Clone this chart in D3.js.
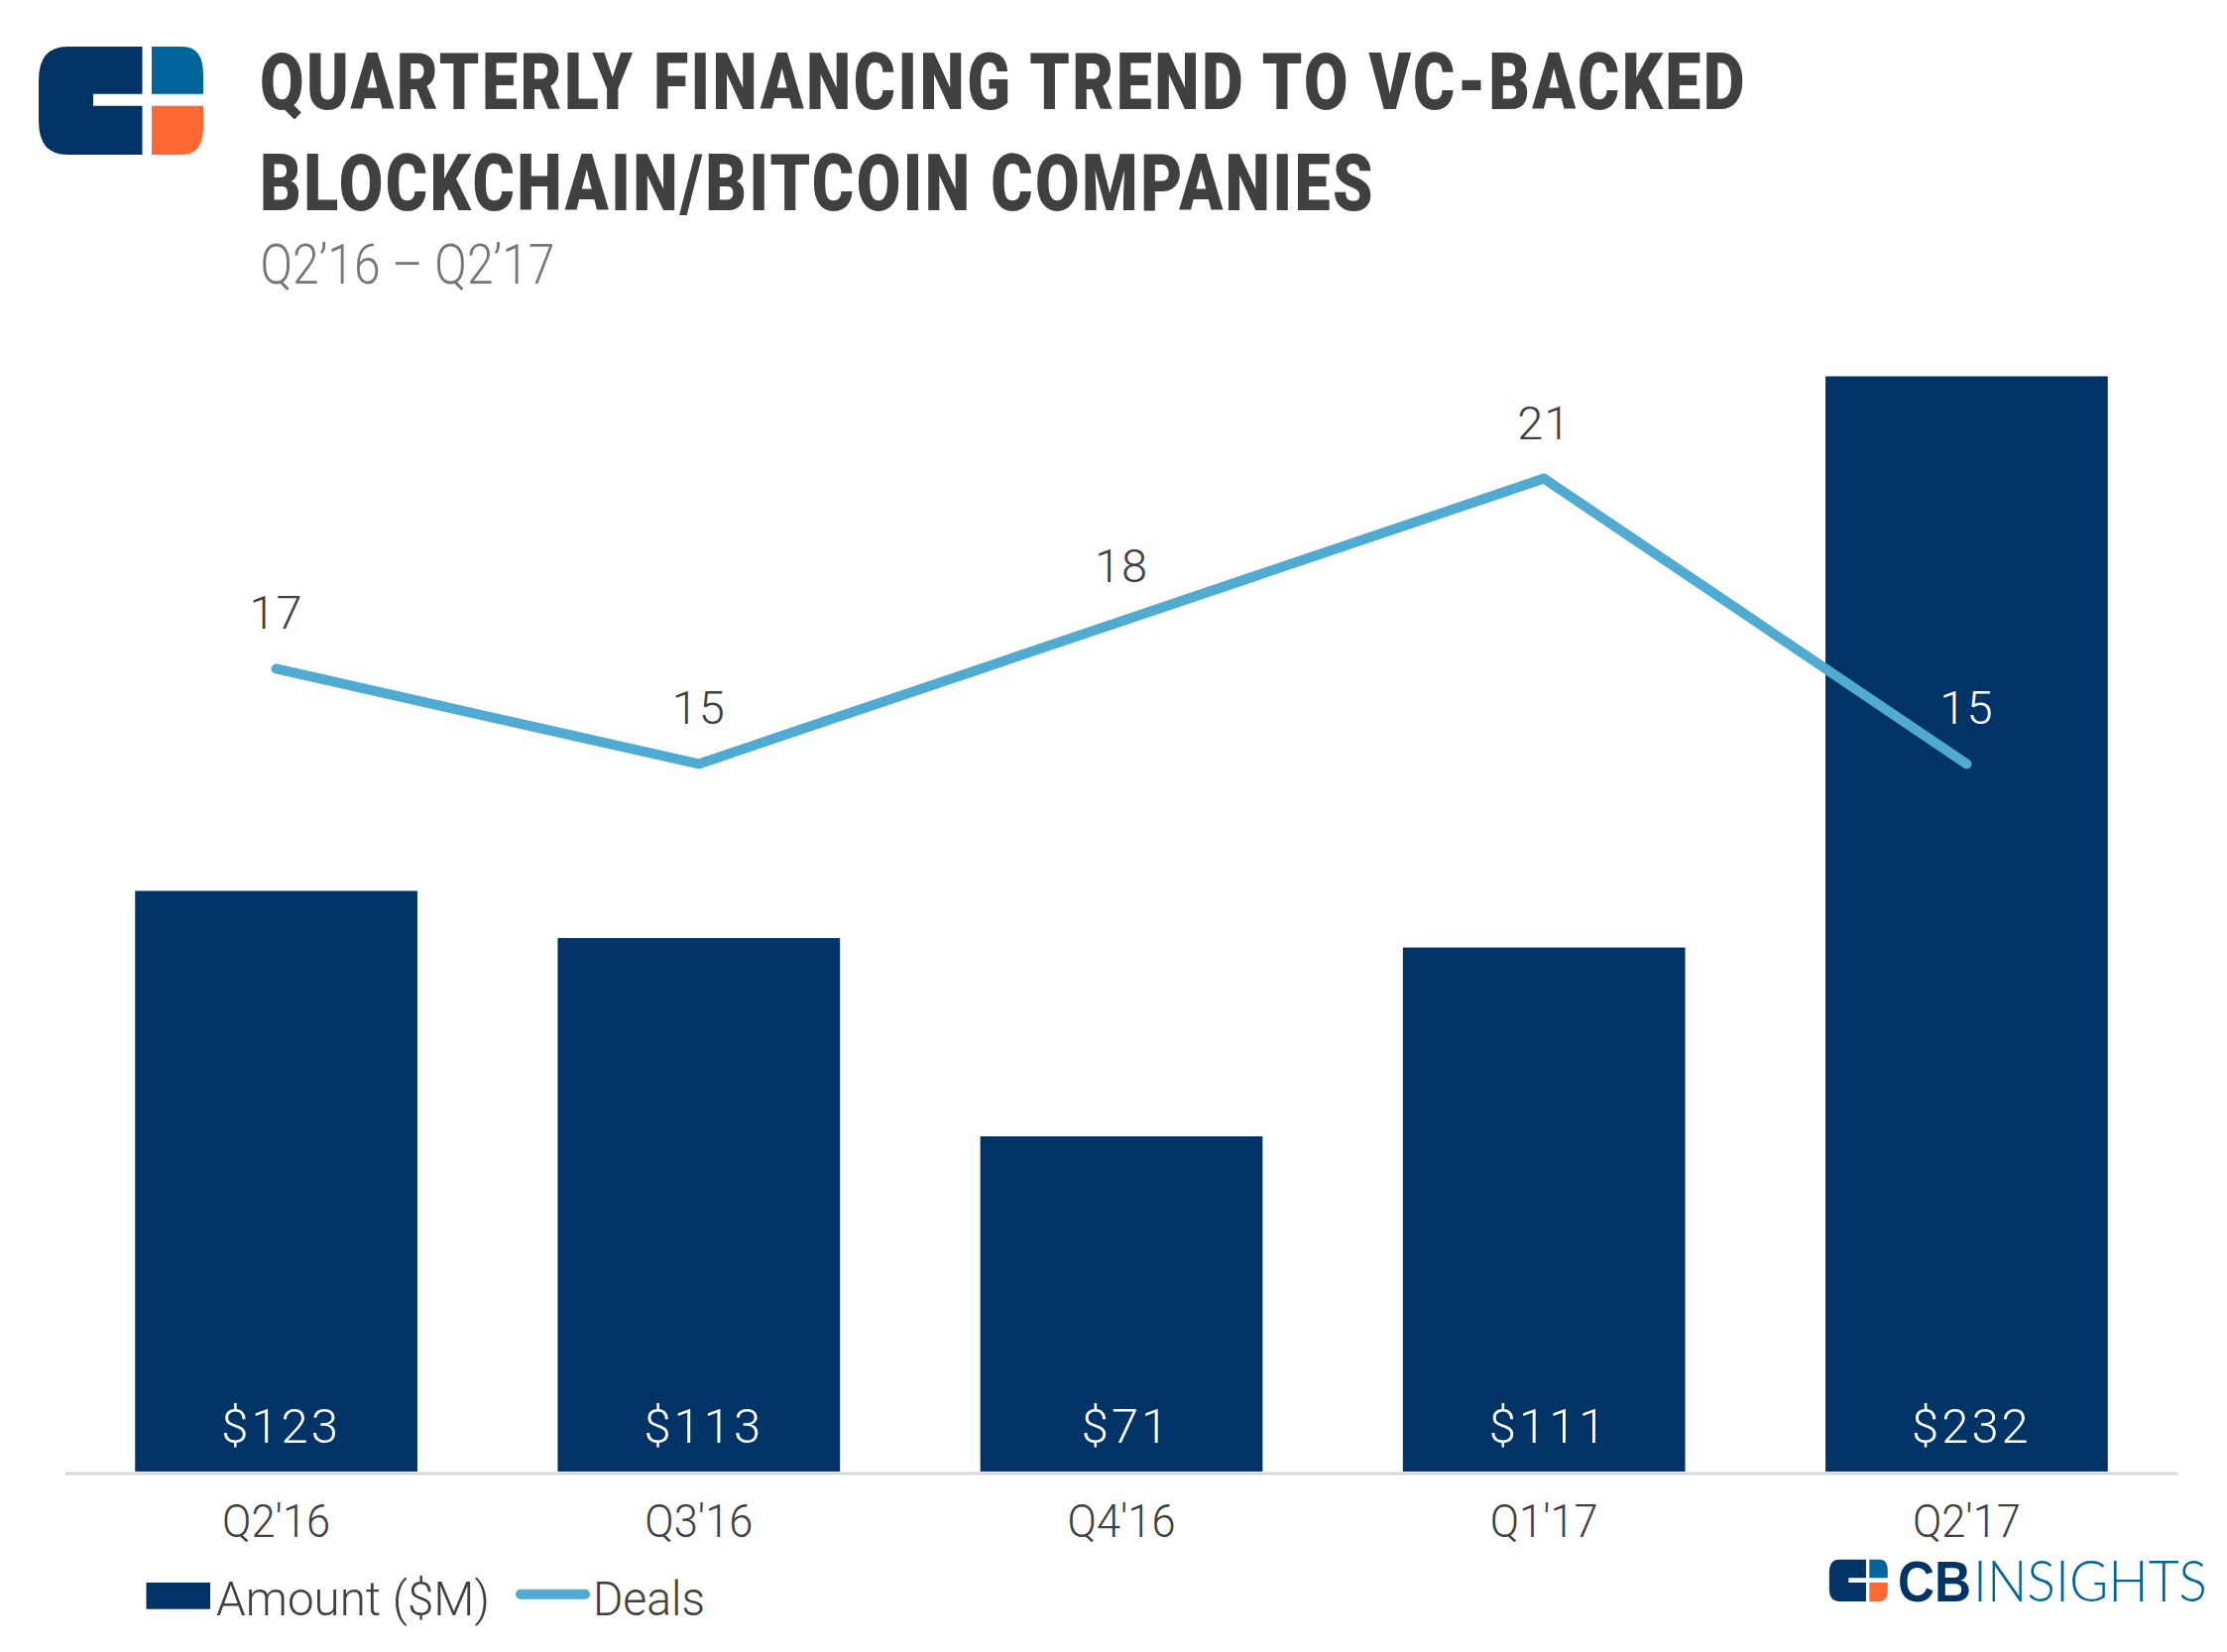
<!DOCTYPE html>
<html lang="en">
<head>
    <meta charset="UTF-8">
    <title>Quarterly financing trend to VC-backed blockchain/bitcoin companies</title>
    <script src="https://d3js.org/d3.v7.min.js"></script>
    <style>
        body { margin: 0; background: #fff; }
        svg { display: block; }
        text { font-family: Roboto, sans-serif; font-weight: 300; fill: #404040; }
        .title { font-weight: 900; font-size: 79px; letter-spacing: 3px; }
        .subtitle { font-size: 55px; fill: #767676; }
        .tick text { font-family: Roboto, sans-serif; font-size: 46px; font-weight: 300; fill: #404040; }
        .bar-label { font-size: 49px; fill: #fff; text-anchor: middle; letter-spacing: 3px; }
        .deal-label { font-size: 47px; text-anchor: middle; letter-spacing: 1px; }
        .legend { font-size: 49px; }
    </style>
</head>
<body>
    <svg id="chart"></svg>
    <script>
        const quarters = ["Q2'16", "Q3'16", "Q4'16", "Q1'17", "Q2'17"];
        const amounts = [123, 113, 71, 111, 232];
        const deals = [17, 15, 18, 21, 15];

        const navy = "#003366", blue = "#00659b", orange = "#ff6833", lineBlue = "#4fabd1";
        const width = 2246, height = 1666;

        const svg = d3.select("#chart").attr("width", width).attr("height", height);

        const x = d3.scaleBand()
            .domain(quarters)
            .range([65.5, 2196.5])
            .paddingInner(0.332)
            .paddingOuter(0.166);

        const yAmount = d3.scaleLinear().domain([0, 232]).range([1484, 379.5]);
        const yDeals = d3.scaleLinear().domain([15, 21]).range([770.4, 482.6]);

        // logo, drawn in page coordinates of the top-left one
        function drawLogo(g) {
            g.append("path").attr("fill", navy)
                .attr("d", "M68 47H143.5V94.7H94V106.7H143.5V156H68Q39 156 39 122V81Q39 47 68 47Z");
            g.append("path").attr("fill", blue)
                .attr("d", "M153 47H184Q205 47 205 75V94.7H153Z");
            g.append("path").attr("fill", orange)
                .attr("d", "M153 106.7H205V128Q205 156 184 156H153Z");
        }
        drawLogo(svg.append("g"));
        drawLogo(svg.append("g").attr("transform", "translate(1831,1554.5) scale(0.355,0.388)"));

        // titles
        svg.append("text").attr("class", "title").attr("x", 262).attr("y", 110)
            .attr("textLength", 1500).attr("lengthAdjust", "spacingAndGlyphs")
            .text("QUARTERLY FINANCING TREND TO VC-BACKED");
        svg.append("text").attr("class", "title").attr("x", 262).attr("y", 212)
            .attr("textLength", 1125).attr("lengthAdjust", "spacingAndGlyphs")
            .text("BLOCKCHAIN/BITCOIN COMPANIES");
        svg.append("text").attr("class", "subtitle").attr("x", 262.5).attr("y", 286)
            .attr("textLength", 297).attr("lengthAdjust", "spacingAndGlyphs")
            .text("Q2’16 – Q2’17");

        // bars
        svg.selectAll(".bar")
            .data(amounts)
            .enter()
            .append("rect")
            .attr("class", "bar")
            .attr("x", (d, i) => x(quarters[i]))
            .attr("y", d => yAmount(d))
            .attr("width", x.bandwidth())
            .attr("height", d => yAmount(0) - yAmount(d))
            .attr("fill", navy);

        svg.selectAll(".bar-label")
            .data(amounts)
            .enter()
            .append("text")
            .attr("class", "bar-label")
            .attr("x", (d, i) => x(quarters[i]) + x.bandwidth() / 2 + 5)
            .attr("y", 1455)
            .text(d => "$" + d);

        // axis
        const axis = svg.append("g")
            .attr("transform", "translate(0,1485.5)")
            .call(d3.axisBottom(x).tickSize(0).tickPadding(32));
        axis.select(".domain").attr("stroke", "#d9d9d9").attr("stroke-width", 3);
        axis.selectAll(".tick text").attr("textLength", 109).attr("lengthAdjust", "spacingAndGlyphs");

        // deals line
        const line = d3.line()
            .x((d, i) => x(quarters[i]) + x.bandwidth() / 2)
            .y(d => yDeals(d));

        svg.append("path")
            .datum(deals)
            .attr("fill", "none")
            .attr("stroke", lineBlue)
            .attr("stroke-width", 10)
            .attr("stroke-linecap", "round")
            .attr("stroke-linejoin", "round")
            .attr("d", line);

        // the last label sits on top of the tall bar
        svg.selectAll(".deal-label")
            .data(deals)
            .enter()
            .append("text")
            .attr("class", "deal-label")
            .attr("x", (d, i) => x(quarters[i]) + x.bandwidth() / 2)
            .attr("y", d => yDeals(d) - 40)
            .style("fill", (d, i) => i === deals.length - 1 ? "#fff" : null)
            .text(d => d);

        // legend
        svg.append("rect").attr("x", 147.5).attr("y", 1596).attr("width", 64.5).attr("height", 26.7).attr("fill", navy);
        svg.append("text").attr("class", "legend").attr("x", 218).attr("y", 1629)
            .attr("textLength", 276).attr("lengthAdjust", "spacingAndGlyphs").text("Amount ($M)");
        svg.append("line").attr("x1", 525).attr("x2", 590).attr("y1", 1607.7).attr("y2", 1607.7)
            .attr("stroke", lineBlue).attr("stroke-width", 10).attr("stroke-linecap", "round");
        svg.append("text").attr("class", "legend").attr("x", 598).attr("y", 1629)
            .attr("textLength", 113).attr("lengthAdjust", "spacingAndGlyphs").text("Deals");

        // brand wordmark
        svg.append("text").attr("x", 1914).attr("y", 1615)
            .attr("textLength", 74).attr("lengthAdjust", "spacingAndGlyphs")
            .style("font-family", "'Liberation Sans'").style("font-size", "58px").style("font-weight", 700).style("fill", navy).text("CB");
        svg.append("text").attr("x", 1990).attr("y", 1615)
            .attr("textLength", 236).attr("lengthAdjust", "spacingAndGlyphs")
            .style("font-family", "Lato").style("font-size", "58px").style("font-weight", 300).style("fill", blue).text("INSIGHTS");
    </script>
</body>
</html>
